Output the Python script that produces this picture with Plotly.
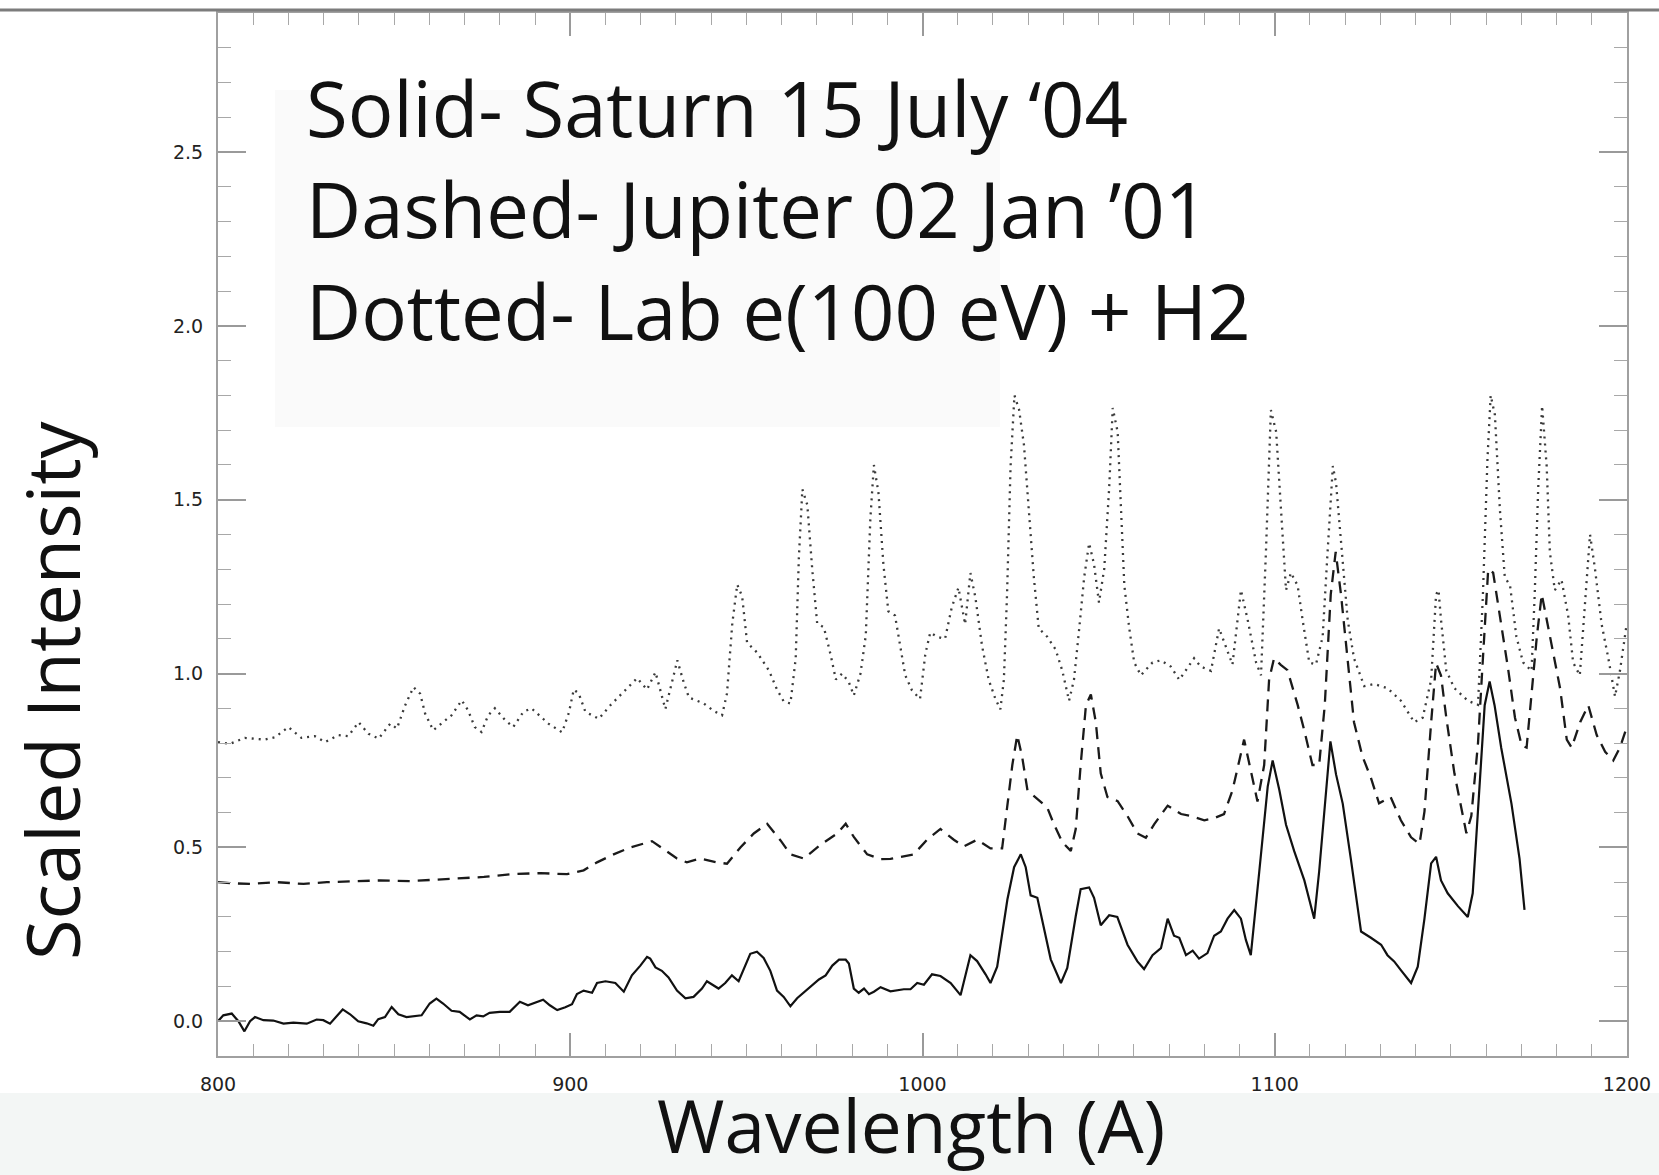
import plotly.graph_objects as go

# ---------------- data ----------------
saturn_x = [800, 801.5, 803.9, 805.8, 807.5, 809.1, 810.5, 812.9, 815.7, 818.6, 821.4, 825.2, 828.0, 829.9,
            831.8, 833.5, 835.4, 837.5, 839.8, 842.2, 844.1, 845.5, 847.4, 849.3, 851.2, 853.5, 857.8, 860.1,
            862.0, 863.9, 866.3, 868.6, 871.5, 873.4, 875.3, 877.1, 880.0, 882.8, 885.7, 888.0, 890.9, 892.3,
            894.2, 896.3, 898.6, 900.5, 901.9, 903.8, 906.2, 907.6, 910.0, 912.8, 915.2, 917.5, 919.9, 921.8,
            922.7, 924.2, 926.0, 927.9, 930.3, 932.7, 935.0, 937.4, 938.8, 940.2, 942.1, 944.0, 945.9, 947.8,
            949.7, 951.1, 953.0, 954.9, 956.8, 958.7, 960.6, 962.5, 964.4, 966.8, 968.7, 970.6, 972.5, 974.4,
            976.3, 978.2, 979.1, 980.5, 981.9, 983.4, 984.8, 986.2, 988.1, 990.9, 994.7, 996.6, 998.5, 1000.4,
            1002.7, 1005.1, 1008.0, 1010.8, 1013.6, 1015.5, 1017.9, 1019.3, 1021.2, 1024.1, 1026.0, 1027.9,
            1029.3, 1030.7, 1032.6, 1034.5, 1036.4, 1039.3, 1041.1, 1043.5, 1044.9, 1047.3, 1048.7, 1050.6,
            1053.0, 1055.3, 1058.2, 1061.0, 1062.9, 1065.3, 1067.7, 1069.6, 1071.4, 1072.9, 1074.8, 1076.7,
            1078.5, 1080.9, 1082.8, 1084.7, 1086.6, 1088.5, 1090.4, 1091.8, 1093.2, 1095.6, 1098.0, 1099.4,
            1101.3, 1103.2, 1105.5, 1108.4, 1111.2, 1112.6, 1114.5, 1115.8, 1117.4, 1119.3, 1121.6, 1124.5,
            1127.3, 1130.2, 1132.0, 1133.9, 1135.8, 1138.7, 1140.6, 1142.5, 1144.4, 1145.8, 1147.2, 1149.1,
            1152.0, 1154.8, 1156.2, 1158.1, 1159.6, 1161.0, 1162.4, 1164.3, 1167.2, 1169.5, 1170.9]
saturn_y = [0.0, 0.017, 0.022, 0.0, -0.029, 0.0, 0.012, 0.003, 0.002, -0.007, -0.004, -0.007, 0.005, 0.003,
            -0.007, 0.012, 0.034, 0.02, 0.0, -0.006, -0.013, 0.006, 0.012, 0.041, 0.02, 0.012, 0.017, 0.051,
            0.065, 0.051, 0.03, 0.027, 0.005, 0.017, 0.014, 0.024, 0.027, 0.027, 0.056, 0.046, 0.058, 0.062,
            0.046, 0.032, 0.04, 0.049, 0.078, 0.088, 0.082, 0.11, 0.115, 0.11, 0.085, 0.132, 0.16, 0.185,
            0.18, 0.155, 0.145, 0.126, 0.088, 0.066, 0.07, 0.094, 0.115, 0.105, 0.094, 0.11, 0.132, 0.115,
            0.16, 0.194, 0.2, 0.182, 0.145, 0.088, 0.07, 0.043, 0.066, 0.088, 0.105, 0.12, 0.132, 0.16,
            0.177, 0.177, 0.166, 0.094, 0.082, 0.094, 0.078, 0.085, 0.098, 0.086, 0.092, 0.092, 0.11, 0.105,
            0.135, 0.13, 0.11, 0.075, 0.19, 0.173, 0.135, 0.11, 0.157, 0.35, 0.443, 0.48,
            0.443, 0.362, 0.355, 0.27, 0.178, 0.11, 0.153, 0.302, 0.38, 0.385, 0.355, 0.276,
            0.305, 0.3, 0.22, 0.172, 0.15, 0.19, 0.21, 0.295, 0.246, 0.24, 0.19, 0.203,
            0.18, 0.196, 0.246, 0.258, 0.295, 0.32, 0.295, 0.234, 0.19, 0.43, 0.675, 0.75,
            0.665, 0.565, 0.49, 0.405, 0.295, 0.43, 0.665, 0.805, 0.71, 0.626, 0.467, 0.258,
            0.24, 0.22, 0.19, 0.172, 0.147, 0.11, 0.157, 0.295, 0.454, 0.473, 0.405, 0.368,
            0.331, 0.3, 0.368, 0.675, 0.909, 0.977, 0.909, 0.786, 0.626, 0.467, 0.32]

jupiter_x = [800, 803.4, 809.1, 816.7, 824.3, 830.9, 839.5, 846.1, 854.6, 861.3, 868.9, 875.5, 883.1, 891.5,
             899.1, 903.8, 907.6, 912.3, 917.1, 923.2, 926.5, 930.3, 933.1, 936.9, 941.6, 944.5, 948.3, 952.1,
             955.9, 959.7, 962.5, 966.3, 971.0, 975.8, 978.2, 980.5, 984.3, 988.1, 990.9, 997.5, 1001.3, 1005.1,
             1008.9, 1011.7, 1015.5, 1019.3, 1022.6, 1024.1, 1025.5, 1026.9, 1028.3, 1029.8, 1032.6, 1035.4,
             1037.3, 1039.7, 1042.1, 1043.5, 1044.9, 1046.4, 1047.8, 1049.2, 1050.6, 1052.5, 1055.4, 1058.2,
             1061.0, 1063.4, 1065.8, 1069.6, 1073.4, 1076.2, 1080.0, 1082.8, 1085.6, 1088.0, 1091.3, 1093.2,
             1095.1, 1097.0, 1098.4, 1099.8, 1101.7, 1103.6, 1106.5, 1108.4, 1110.7, 1112.6, 1114.2, 1115.9,
             1117.3, 1118.8, 1120.6, 1122.5, 1124.9, 1127.3, 1129.6, 1132.9, 1135.8, 1138.7, 1141.1, 1142.5,
             1144.4, 1145.8, 1147.2, 1148.7, 1151.0, 1152.9, 1154.4, 1155.8, 1157.7, 1159.1, 1160.6, 1162.0,
             1163.9, 1166.3, 1168.2, 1170.1, 1171.5, 1172.9, 1174.4, 1175.8, 1177.2, 1179.1, 1181.0, 1182.9,
             1184.3, 1186.7, 1189.0, 1191.4, 1193.8, 1196.1, 1198.0, 1200.0]
jupiter_y = [0.40, 0.397, 0.395, 0.40, 0.395, 0.40, 0.403, 0.405, 0.403, 0.407, 0.41, 0.415, 0.423, 0.426,
             0.423, 0.434, 0.457, 0.48, 0.50, 0.518, 0.495, 0.468, 0.457, 0.468, 0.457, 0.453, 0.50, 0.54,
             0.568, 0.52, 0.48, 0.468, 0.507, 0.54, 0.568, 0.53, 0.48, 0.466, 0.467, 0.48, 0.522, 0.553,
             0.522, 0.503, 0.522, 0.497, 0.497, 0.615, 0.737, 0.823, 0.76, 0.664, 0.64, 0.615,
             0.567, 0.515, 0.49, 0.553, 0.737, 0.909, 0.94, 0.86, 0.713, 0.645, 0.633, 0.59,
             0.54, 0.528, 0.567, 0.62, 0.596, 0.59, 0.578, 0.584, 0.596, 0.664, 0.81, 0.724,
             0.632, 0.737, 0.983, 1.044, 1.025, 1.01, 0.91, 0.836, 0.737, 0.737, 0.909, 1.228,
             1.35, 1.228, 1.044, 0.86, 0.762, 0.7, 0.627, 0.645, 0.578, 0.529, 0.51, 0.603,
             0.86, 1.03, 0.994, 0.873, 0.713, 0.615, 0.541, 0.59, 0.8, 1.044, 1.30, 1.29,
             1.17, 1.01, 0.873, 0.793, 0.787, 0.934, 1.106, 1.228, 1.155, 1.056, 0.958, 0.81,
             0.787, 0.86, 0.909, 0.823, 0.775, 0.75, 0.787, 0.848]

lab_x = [800, 803.4, 807.6, 813.3, 816.2, 820.0, 823.7, 827.5, 830.4, 834.2, 837.0, 839.9, 842.7, 845.6,
         848.9, 850.8, 853.1, 855.5, 857.4, 858.8, 861.1, 863.5, 866.3, 869.2, 871.0, 872.9, 874.8, 876.7,
         878.6, 881.5, 883.8, 886.7, 889.0, 891.4, 893.8, 897.7, 899.6, 901.0, 902.4, 904.3, 908.1, 911.4,
         915.2, 919.0, 921.8, 924.2, 927.0, 928.9, 930.4, 932.2, 933.7, 937.9, 940.8, 943.1, 944.5, 946.0,
         947.4, 948.8, 950.2, 953.1, 956.4, 958.7, 960.6, 962.5, 964.0, 964.9, 965.9, 967.3, 968.7, 970.1,
         972.0, 973.9, 975.4, 977.2, 979.1, 980.5, 982.4, 983.9, 985.2, 986.2, 987.5, 988.9, 990.3, 992.2,
         993.7, 995.1, 997.0, 999.3, 1000.8, 1002.2, 1004.1, 1006.4, 1008.3, 1010.2, 1012.1, 1013.6, 1015.0,
         1016.9, 1018.8, 1020.7, 1022.1, 1023.1, 1024.0, 1025.0, 1026.1, 1027.4, 1028.8, 1030.2, 1031.6,
         1033.0, 1035.4, 1037.8, 1039.7, 1041.6, 1043.0, 1044.5, 1045.9, 1047.3, 1048.7, 1050.1, 1051.6,
         1053.0, 1054.0, 1055.4, 1056.4, 1057.3, 1058.7, 1060.1, 1062.0, 1065.3, 1067.7, 1070.5, 1072.9,
         1075.2, 1077.1, 1079.0, 1081.9, 1084.2, 1086.1, 1088.0, 1090.4, 1092.3, 1094.7, 1096.1, 1097.5,
         1098.9, 1100.4, 1101.8, 1103.2, 1104.6, 1106.5, 1107.9, 1109.8, 1111.7, 1113.6, 1115.0, 1116.5,
         1117.4, 1118.8, 1120.7, 1122.5, 1125.4, 1128.2, 1132.0, 1135.8, 1139.6, 1142.0, 1144.4, 1145.8,
         1146.5, 1147.2, 1148.7, 1151.0, 1154.8, 1157.7, 1159.1, 1160.4, 1161.3, 1162.5, 1163.9, 1165.3,
         1166.8, 1168.6, 1170.5, 1172.9, 1173.8, 1174.8, 1175.9, 1177.2, 1178.1, 1179.5, 1181.4, 1183.3,
         1184.7, 1186.6, 1188.0, 1189.5, 1190.9, 1192.8, 1194.7, 1196.6, 1198.0, 1199.9]
lab_y = [0.803, 0.798, 0.815, 0.81, 0.817, 0.846, 0.815, 0.82, 0.803, 0.823, 0.82, 0.86, 0.827, 0.813,
         0.856, 0.842, 0.908, 0.961, 0.942, 0.885, 0.837, 0.856, 0.88, 0.923, 0.894, 0.846, 0.832, 0.88,
         0.9, 0.866, 0.846, 0.89, 0.9, 0.878, 0.856, 0.831, 0.887, 0.954, 0.943, 0.89, 0.87, 0.909,
         0.948, 0.987, 0.954, 1.004, 0.898, 0.975, 1.038, 0.975, 0.931, 0.914, 0.892, 0.88, 0.943, 1.144,
         1.256, 1.222, 1.089, 1.06, 1.009, 0.954, 0.92, 0.914, 1.043, 1.334, 1.53, 1.485, 1.30, 1.144,
         1.133, 1.055, 0.983, 1.0, 0.975, 0.937, 1.0, 1.11, 1.446, 1.60, 1.52, 1.314, 1.179, 1.167,
         1.08, 0.995, 0.952, 0.927, 1.056, 1.118, 1.106, 1.1, 1.19, 1.247, 1.142, 1.289, 1.22,
         1.08, 0.982, 0.927, 0.897, 0.982, 1.228, 1.596, 1.80, 1.76, 1.658, 1.474, 1.278,
         1.13, 1.106, 1.069, 1.008, 0.922, 0.982, 1.13, 1.277, 1.375, 1.314, 1.204, 1.302,
         1.535, 1.764, 1.695, 1.474, 1.253, 1.13, 1.032, 0.995, 1.032, 1.038, 1.02, 0.982,
         1.014, 1.044, 1.02, 1.008, 1.13, 1.08, 1.026, 1.24, 1.155, 1.032, 0.995, 1.35,
         1.758, 1.695, 1.474, 1.24, 1.29, 1.253, 1.155, 1.032, 1.026, 1.106, 1.35, 1.597,
         1.548, 1.375, 1.155, 1.044, 0.964, 0.97, 0.958, 0.922, 0.86, 0.873, 0.982, 1.228,
         1.24, 1.155, 1.008, 0.958, 0.922, 0.91, 1.228, 1.62, 1.80, 1.744, 1.474, 1.278,
         1.253, 1.106, 1.032, 1.008, 1.228, 1.535, 1.77, 1.596, 1.35, 1.24, 1.27, 1.167,
         1.032, 0.995, 1.204, 1.40, 1.302, 1.142, 1.044, 0.934, 1.008, 1.142]

x_tick_vals = [800, 900, 1000, 1100, 1200]
x_tick_text = ["800", "900", "1000", "1100", "1200"]
y_tick_vals = [0.0, 0.5, 1.0, 1.5, 2.0, 2.5]
y_tick_text = ["0.0", "0.5", "1.0", "1.5", "2.0", "2.5"]

legend_lines = ["Solid- Saturn 15 July \u201804",
                "Dashed- Jupiter 02 Jan \u201901",
                "Dotted- Lab e(100 eV) + H2"]

# ---------------- figure ----------------
W, H = 1659, 1175
L, R, T, B = 218, 32, 13, 119
PW, PH = W - L - R, H - T - B


def px(xp):
    return (xp - L) / PW


def py(yp):
    return (H - B - yp) / PH


fig = go.Figure()
fig.add_trace(go.Scatter(x=lab_x, y=lab_y, mode="lines",
                         line=dict(color="#3a3a3a", width=2.3, dash="2px,5px"), showlegend=False))
fig.add_trace(go.Scatter(x=jupiter_x, y=jupiter_y, mode="lines",
                         line=dict(color="#1a1a1a", width=2.3, dash="12px,8px"), showlegend=False))
fig.add_trace(go.Scatter(x=saturn_x, y=saturn_y, mode="lines",
                         line=dict(color="#111111", width=2.2), showlegend=False))

tickfont = dict(family="DejaVu Sans", size=19, color="#222222")
fig.update_xaxes(range=[800, 1200], tickvals=x_tick_vals, ticktext=x_tick_text,
                 ticks="inside", ticklen=23, tickwidth=1.5, tickcolor="#9a9a9a",
                 minor=dict(dtick=10, ticks="inside", ticklen=12, tickwidth=1.2, tickcolor="#a8a8a8"),
                 showline=True, linecolor="#a0a0a0", linewidth=2, mirror="allticks",
                 showgrid=False, zeroline=False, tickfont=tickfont, ticklabelstandoff=10)
fig.update_yaxes(range=[-0.1, 2.9], tickvals=y_tick_vals, ticktext=y_tick_text,
                 ticks="inside", ticklen=28, tickwidth=1.5, tickcolor="#9a9a9a",
                 minor=dict(dtick=0.1, ticks="inside", ticklen=13, tickwidth=1.2, tickcolor="#a8a8a8"),
                 showline=True, linecolor="#a0a0a0", linewidth=2, mirror="allticks",
                 showgrid=False, zeroline=False, tickfont=tickfont, ticklabelstandoff=9)

shapes = [
    # faint bottom strip
    dict(type="rect", xref="paper", yref="paper", x0=px(0), x1=px(W), y0=py(H), y1=py(1093),
         fillcolor="#f3f6f5", line=dict(width=0), layer="below"),
    # faint legend panel
    dict(type="rect", xref="paper", yref="paper", x0=px(275), x1=px(1000), y0=py(427), y1=py(90),
         fillcolor="#fafafa", line=dict(width=0), layer="below"),
    # dark line at the very top
    dict(type="line", xref="paper", yref="paper", x0=px(0), x1=px(W), y0=py(10), y1=py(10),
         line=dict(color="#7c7c7c", width=3), layer="above"),
]

annotations = [
    dict(text="Wavelength (A)", xref="paper", yref="paper", x=px(911), y=py(1124),
         xanchor="center", yanchor="middle", showarrow=False,
         font=dict(family="Open Sans", size=73, color="#111111")),
    dict(text="Scaled Intensity", xref="paper", yref="paper", x=px(51), y=py(690),
         xanchor="center", yanchor="middle", showarrow=False, textangle=-90,
         font=dict(family="Open Sans", size=74, color="#111111")),
]
legend_font = dict(family="Open Sans", size=76, color="#111111")
for line_text, ycen in zip(legend_lines, [107.5, 208.5, 310.5]):
    annotations.append(dict(text=line_text, xref="paper", yref="paper", x=px(304), y=py(ycen),
                            xanchor="left", yanchor="middle", showarrow=False, font=legend_font))

fig.update_layout(width=W, height=H, margin=dict(l=L, r=R, t=T, b=B, autoexpand=False),
                  paper_bgcolor="#ffffff", plot_bgcolor="#ffffff",
                  shapes=shapes, annotations=annotations, showlegend=False)

fig.write_html("out.html")
